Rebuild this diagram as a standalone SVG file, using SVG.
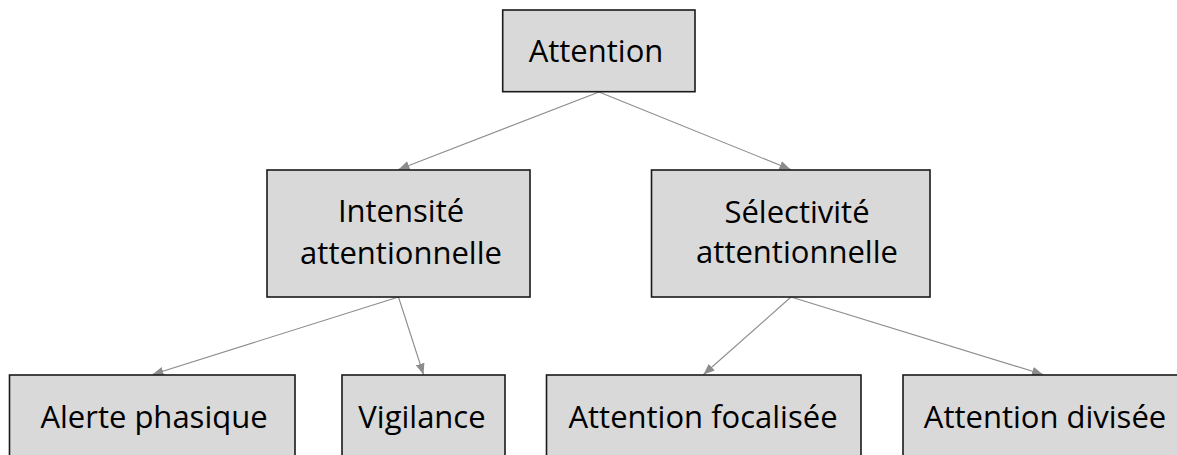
<svg xmlns="http://www.w3.org/2000/svg" width="1177" height="455" viewBox="0 0 1177 455">
<style>
.box{fill:#d9d9d9;stroke:#1a1a1a;stroke-width:1.6}
.lbl{font-family:"Open Sans","Noto Sans",sans-serif;font-size:31px;fill:#000;text-anchor:middle}
.edge{stroke:#8c8c8c;stroke-width:1.1;fill:none;marker-end:url(#arr)}
</style>
<defs>
<marker id="arr" markerUnits="userSpaceOnUse" markerWidth="12" markerHeight="10" viewBox="0 0 12 10" refX="11" refY="5" orient="auto">
<path d="M0,0.5 L11,5 L0,9.5 Z" fill="#8c8c8c"/>
</marker>
</defs>
<rect width="1177" height="455" fill="#fff"/>
<g id="connectors">
<line class="edge" x1="599" y1="92" x2="398.5" y2="169.5"/>
<line class="edge" x1="599" y1="92" x2="790.5" y2="169.5"/>
<line class="edge" x1="398.5" y1="297" x2="152.5" y2="374.5"/>
<line class="edge" x1="398.5" y1="297" x2="423.5" y2="374.5"/>
<line class="edge" x1="791" y1="297" x2="703.5" y2="374.5"/>
<line class="edge" x1="791" y1="297" x2="1043" y2="374.5"/>
</g>
<g id="attention">
<rect class="box" x="502.7" y="10" width="192.3" height="81.7"/>
<text class="lbl" x="596" y="62">Attention</text>
</g>
<g id="intensite">
<rect class="box" x="267" y="170" width="263" height="127"/>
<text class="lbl" x="401" y="222">Intensité</text>
<text class="lbl" x="401" y="264">attentionnelle</text>
</g>
<g id="selectivite">
<rect class="box" x="651.5" y="170" width="278.5" height="127"/>
<text class="lbl" x="797" y="223">Sélectivité</text>
<text class="lbl" x="797" y="263">attentionnelle</text>
</g>
<g id="alerte">
<rect class="box" x="9.5" y="375" width="285.5" height="100"/>
<text class="lbl" x="154" y="428">Alerte phasique</text>
</g>
<g id="vigilance">
<rect class="box" x="342" y="375" width="163" height="100"/>
<text class="lbl" x="422" y="428">Vigilance</text>
</g>
<g id="focalisee">
<rect class="box" x="546.5" y="375" width="314.5" height="100"/>
<text class="lbl" x="703" y="428">Attention focalisée</text>
</g>
<g id="divisee">
<rect class="box" x="903" y="375" width="290" height="100"/>
<text class="lbl" x="1045" y="428">Attention divisée</text>
</g>
</svg>
